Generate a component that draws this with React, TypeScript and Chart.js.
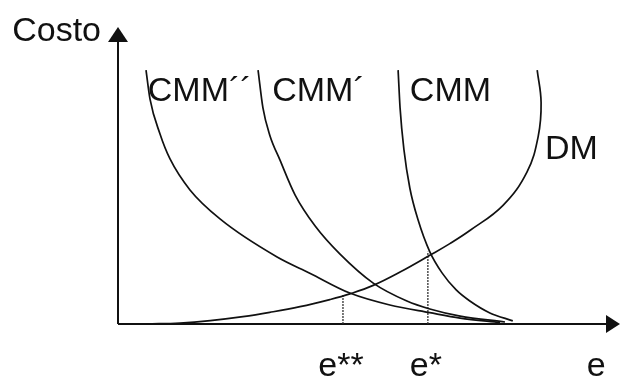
import { useEffect, useRef } from "react";
import { Chart, registerables } from "chart.js";

Chart.register(...registerables);

const WIDTH = 621;
const HEIGHT = 378;

// Marginal abatement cost curves (e = emissions, c = cost)
const cmm2E = [5.74, 6.56, 8.61, 10.66, 14.75, 20.9, 32.6, 39.3, 47.5, 55.7, 63.9, 70.1, 78.3];
const cmm2C = [89.4, 79.2, 66.9, 58.1, 47.2, 37.0, 23.6, 17.9, 10.9, 6.7, 4.0, 2.1, 0.5];

const cmm1E = [28.7, 29.7, 31.1, 33.2, 36.3, 40.4, 45.5, 52.3, 59.2, 63.9, 70.1, 79.3];
const cmm1C = [89.4, 76.1, 66.5, 57.7, 45.4, 34.5, 24.6, 14.4, 8.1, 5.3, 2.8, 0.7];

const cmmE = [57.4, 57.8, 58.6, 59.8, 61.5, 63.9, 66.4, 69.3, 72.1, 76.2, 80.9];
const cmmC = [89.4, 76.1, 61.3, 47.9, 36.6, 25.4, 18.0, 12.0, 8.1, 3.9, 1.1];

// Marginal damage curve
const dmE = [5.9, 12.7, 18.9, 25.6, 31.1, 37.3, 43.4, 47.5, 52.3, 57.8, 63.9, 68.0, 72.1, 78.9, 83.8, 86.1, 86.7, 85.9];
const dmC = [0, 0.35, 1.2, 2.6, 4.1, 6.1, 8.6, 10.6, 13.6, 18.3, 24.2, 28.3, 32.9, 41.8, 53.5, 66.0, 78.0, 89.4];

// Equilibrium levels marked on the e axis
const markLabels = ["e**", "e*"];
const markE = [46.1, 63.5];
const markC = [10.6, 25.4];

const axisLabelX = "e";
const axisLabelY = "Costo";
const axisLabelXAt = 98;

const curveNames = ["CMM´´", "CMM´", "CMM", "DM"];
const curveLabelE = [6.1, 31.6, 59.8, 87.5];
const curveLabelC = [78.5, 78.5, 78.5, 58.1];

const zip = (xs: number[], ys: number[]) => xs.map((x, i) => ({ x, y: ys[i] }));

const INK = "#111";
const FONT = "34px 'Liberation Sans', Arial, Helvetica, sans-serif";

const diagramPlugin = {
  id: "diagram",
  beforeDatasetsDraw(chart: any) {
    const { ctx, chartArea, scales } = chart;
    const x0 = scales.x.getPixelForValue(0);
    const y0 = scales.y.getPixelForValue(0);
    const right = chartArea.right;
    const top = chartArea.top;
    ctx.save();
    ctx.strokeStyle = INK;
    ctx.fillStyle = INK;
    ctx.lineWidth = 2;
    ctx.beginPath();
    ctx.moveTo(x0, y0);
    ctx.lineTo(right + 2, y0);
    ctx.moveTo(x0, y0);
    ctx.lineTo(x0, top);
    ctx.stroke();
    // arrowheads
    ctx.beginPath();
    ctx.moveTo(right + 14, y0);
    ctx.lineTo(right, y0 - 9);
    ctx.lineTo(right, y0 + 9);
    ctx.closePath();
    ctx.fill();
    ctx.beginPath();
    ctx.moveTo(x0, top - 13);
    ctx.lineTo(x0 - 10, top + 2);
    ctx.lineTo(x0 + 10, top + 2);
    ctx.closePath();
    ctx.fill();
    ctx.restore();
  },
  afterDatasetsDraw(chart: any) {
    const { ctx, chartArea, scales } = chart;
    const xs = scales.x;
    const ys = scales.y;
    ctx.save();
    ctx.fillStyle = INK;
    ctx.font = FONT;
    ctx.textBaseline = "alphabetic";

    ctx.textAlign = "right";
    ctx.fillText(axisLabelY, xs.getPixelForValue(0) - 17, chartArea.top + 1);

    ctx.textAlign = "left";
    curveNames.forEach((name, i) => {
      ctx.fillText(name, xs.getPixelForValue(curveLabelE[i]), ys.getPixelForValue(curveLabelC[i]));
    });

    ctx.textAlign = "center";
    const base = ys.getPixelForValue(0) + 52;
    markLabels.forEach((t, i) => {
      ctx.fillText(t, xs.getPixelForValue(markE[i]) - 2, base);
    });
    ctx.fillText(axisLabelX, xs.getPixelForValue(axisLabelXAt), base);
    ctx.restore();
  },
};

export default function App() {
  const canvasRef = useRef<HTMLCanvasElement | null>(null);

  useEffect(() => {
    const canvas = canvasRef.current;
    if (!canvas) return;
    const curve = (data: { x: number; y: number }[], monotone: boolean) => ({
      data,
      borderColor: INK,
      borderWidth: 1.7,
      pointRadius: 0,
      tension: 0.4,
      cubicInterpolationMode: monotone ? ("monotone" as const) : ("default" as const),
      fill: false,
      clip: false as any,
    });
    const marker = (i: number) => ({
      data: [
        { x: markE[i], y: 0 },
        { x: markE[i], y: markC[i] },
      ],
      borderColor: "#333",
      borderWidth: 1.3,
      borderDash: [2, 1],
      pointRadius: 0,
      tension: 0,
      fill: false,
    });
    const chart = new Chart(canvas, {
      type: "line",
      data: {
        datasets: [
          curve(zip(cmm2E, cmm2C), true),
          curve(zip(cmm1E, cmm1C), true),
          curve(zip(cmmE, cmmC), true),
          curve(zip(dmE, dmC), false),
          marker(0),
          marker(1),
        ],
      },
      options: {
        responsive: false,
        animation: false,
        devicePixelRatio: 1,
        layout: { padding: { left: 118, right: 15, top: 40, bottom: 54 } },
        plugins: { legend: { display: false }, tooltip: { enabled: false } },
        scales: {
          x: { type: "linear", min: 0, max: 100, display: false },
          y: { type: "linear", min: 0, max: 100, display: false },
        },
      },
      plugins: [diagramPlugin],
    });
    return () => chart.destroy();
  }, []);

  return (
    <div style={{ position: "fixed", left: 0, top: 0, width: WIDTH, height: HEIGHT, background: "#fff" }}>
      <canvas ref={canvasRef} width={WIDTH} height={HEIGHT} style={{ display: "block" }} />
    </div>
  );
}
